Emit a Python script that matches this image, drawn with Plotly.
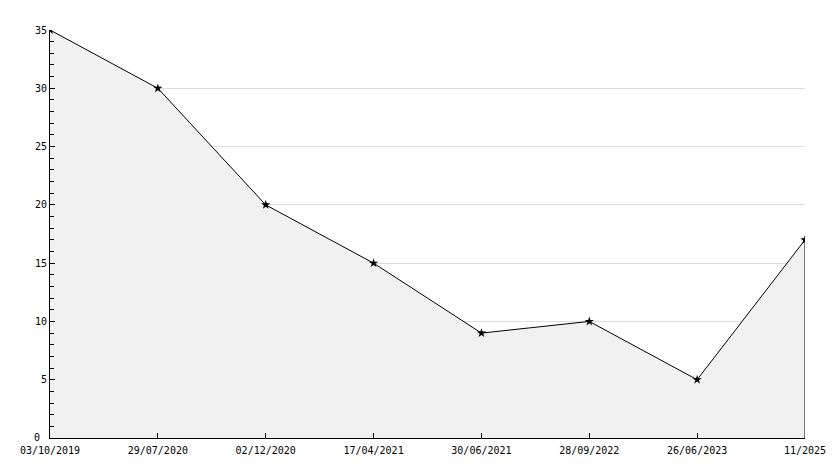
import plotly.graph_objects as go

dates = ["03/10/2019", "29/07/2020", "02/12/2020", "17/04/2021",
         "30/06/2021", "28/09/2022", "26/06/2023", "11/2025"]
values = [35, 30, 20, 15, 9, 10, 5, 17]
y_ticks = [5, 10, 15, 20, 25, 30, 35]

fig = go.Figure()
fig.add_trace(go.Scatter(
    x=dates, y=values, mode="lines+markers",
    line=dict(color="black", width=1),
    fill="tozeroy", fillcolor="#f1f1f1",
    marker=dict(symbol="star", size=7, color="black"),
    hoverinfo="x+y", showlegend=False,
))
# right edge of the filled area
fig.add_shape(type="line", xref="x", yref="y",
              x0=dates[-1], x1=dates[-1], y0=0, y1=values[-1],
              line=dict(color="black", width=1))

font = dict(family="DejaVu Sans Mono", size=10, color="black")
# zero label lifted very slightly above the axis line
fig.add_annotation(xref="paper", yref="y", x=0, y=0, text="0",
                   showarrow=False, xanchor="right", yanchor="middle",
                   xshift=-8, yshift=1, font=font)
fig.update_layout(
    width=834, height=468,
    margin=dict(l=50, r=29, t=30, b=30, autoexpand=False),
    plot_bgcolor="white", paper_bgcolor="white",
    font=font,
    xaxis=dict(type="category", range=[0, len(dates) - 1],
               showgrid=False, ticks="inside", ticklen=5, tickcolor="black",
               showline=True, linecolor="black", linewidth=1,
               zeroline=False, tickfont=font, ticklabelstandoff=3),
    yaxis=dict(range=[0, 35], tickvals=y_ticks,
               showgrid=True, gridcolor="#dddddd", gridwidth=1,
               ticks="inside", ticklen=5, tickcolor="black",
               showline=True, linecolor="black", linewidth=1,
               zeroline=False, tickfont=font,
               minor=dict(dtick=1, tick0=0, ticks="inside", ticklen=4,
                          tickcolor="black", showgrid=False)),
)
fig.write_html("out.html", config={"displayModeBar": False},
               post_script="document.body.style.margin='0';")
